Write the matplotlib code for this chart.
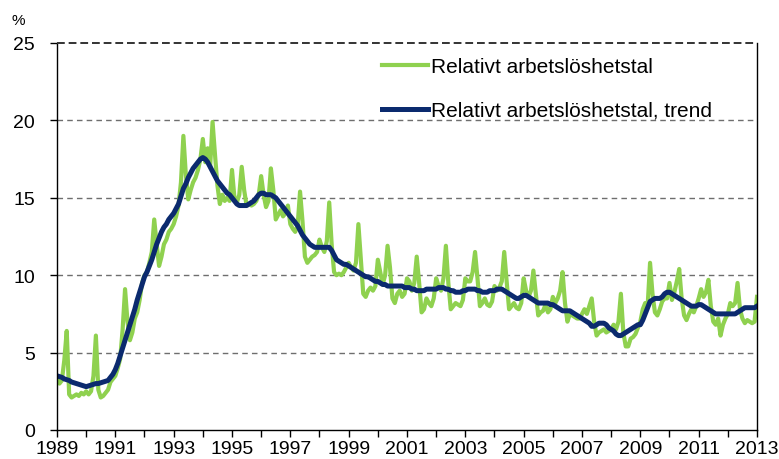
import numpy as np
import matplotlib
matplotlib.use("Agg")
import matplotlib.pyplot as plt
from matplotlib.ticker import MultipleLocator

plt.rcParams['font.family'] = ['Liberation Sans', 'DejaVu Sans']

# monthly values, Jan 1989 - Jan 2013
rate = [
    3.4, 3.0, 3.2, 4.5, 6.4, 2.3, 2.1, 2.2, 2.3, 2.2, 2.4, 2.3,   # 1989
    2.5, 2.3, 2.5, 3.5, 6.1, 2.6, 2.1, 2.2, 2.4, 2.6, 3.1, 3.3,   # 1990
    3.5, 4.0, 4.6, 6.5, 9.1, 7.0, 5.8, 6.3, 7.2, 7.6, 8.4, 9.5,   # 1991
    10.0, 10.2, 10.8, 11.5, 13.6, 12.0, 10.6, 11.2, 12.0, 12.3, 12.8, 13.0,  # 1992
    13.3, 13.8, 14.5, 16.0, 19.0, 16.5, 14.9, 15.5, 16.0, 16.3, 16.8, 17.5,  # 1993
    18.8, 17.3, 18.2, 17.0, 19.9, 17.8, 15.8, 14.6, 15.2, 14.8, 15.0, 14.8,  # 1994
    16.8, 15.0, 14.7, 15.2, 17.0, 15.5, 14.5, 14.6, 14.5, 14.6, 14.8, 15.2,  # 1995
    16.4, 15.2, 14.4, 14.8, 16.9, 15.5, 13.6, 13.9, 14.2, 13.8, 14.0, 14.5,  # 1996
    13.3, 13.0, 12.8, 13.2, 15.4, 13.5, 11.2, 10.8, 11.0, 11.2, 11.3, 11.5,  # 1997
    12.3, 11.8, 11.5, 12.2, 14.7, 12.0, 10.2, 10.0, 10.1, 10.0, 10.2, 10.5,  # 1998
    10.8, 10.5, 10.3, 10.8, 13.3, 11.0, 8.8, 8.6, 9.0, 9.2, 9.0, 9.3,        # 1999
    11.0, 10.2, 9.4, 10.0, 11.9, 10.5, 8.5, 8.2, 8.8, 9.0, 8.6, 8.8,         # 2000
    9.8, 9.6, 9.0, 9.5, 11.2, 9.5, 7.6, 7.8, 8.5, 8.2, 8.0, 8.5,             # 2001
    9.8, 9.3, 9.0, 9.8, 11.9, 9.5, 7.8, 8.0, 8.2, 8.1, 8.0, 8.4,             # 2002
    9.8, 9.6, 9.6, 10.2, 11.5, 9.8, 8.0, 8.2, 8.5, 8.1, 8.0, 8.3,            # 2003
    9.3, 9.0, 9.2, 9.6, 11.5, 9.6, 7.8, 8.0, 8.2, 7.9, 7.8, 8.2,             # 2004
    9.8, 9.0, 8.6, 9.0, 10.3, 8.8, 7.4, 7.6, 7.7, 8.1, 7.6, 7.8,             # 2005
    8.6, 8.2, 8.5, 9.0, 10.2, 8.2, 7.0, 7.5, 7.4, 7.3, 7.2, 7.2,             # 2006
    7.5, 7.8, 7.5, 8.0, 8.5, 7.0, 6.1, 6.3, 6.4, 6.5, 6.3, 6.4,              # 2007
    6.5, 6.8, 6.5, 7.0, 8.8, 6.3, 5.4, 5.4, 5.9, 6.0, 6.2, 6.6,              # 2008
    7.0, 7.8, 8.2, 8.0, 10.8, 8.8, 7.6, 7.4, 7.8, 8.3, 8.5, 8.5,             # 2009
    9.5, 8.4, 8.9, 9.6, 10.4, 8.5, 7.4, 7.1, 7.5, 7.8, 7.6, 8.0,             # 2010
    8.5, 9.1, 8.6, 8.9, 9.7, 8.0, 7.0, 6.8, 7.2, 6.1, 6.8, 7.2,              # 2011
    7.5, 8.2, 8.0, 8.2, 9.5, 7.8, 7.2, 6.9, 7.1, 7.0, 6.9, 7.0,              # 2012
    8.6,                                                                     # 2013
]

trend = [
    3.5, 3.45, 3.4, 3.3, 3.25, 3.2, 3.1, 3.05, 3.0, 2.95, 2.9, 2.85,
    2.8, 2.85, 2.9, 2.95, 3.0, 3.0, 3.05, 3.1, 3.15, 3.2, 3.4, 3.6,
    3.9, 4.3, 4.8, 5.3, 5.8, 6.3, 6.8, 7.3, 7.8, 8.4, 8.9, 9.4,
    9.9, 10.2, 10.6, 11.0, 11.5, 12.0, 12.4, 12.8, 13.1, 13.3, 13.6, 13.8,
    14.0, 14.3, 14.6, 15.1, 15.6, 15.9, 16.3, 16.6, 16.9, 17.1, 17.3, 17.5,
    17.6, 17.5, 17.3, 17.0, 16.7, 16.4, 16.1, 15.9, 15.7, 15.5, 15.3, 15.2,
    15.0, 14.8, 14.6, 14.5, 14.5, 14.5, 14.5, 14.6, 14.7, 14.8, 15.0, 15.2,
    15.3, 15.3, 15.2, 15.2, 15.2, 15.1, 15.0, 14.8, 14.6, 14.4, 14.2, 14.0,
    13.8, 13.6, 13.4, 13.2, 12.9, 12.6, 12.4, 12.2, 12.0, 11.9, 11.8, 11.8,
    11.8, 11.8, 11.8, 11.8, 11.8, 11.6, 11.3, 11.0, 10.9, 10.8, 10.7, 10.7,
    10.6, 10.5, 10.4, 10.3, 10.2, 10.1, 10.0, 9.9, 9.9, 9.8, 9.7, 9.6,
    9.6, 9.5, 9.4, 9.4, 9.3, 9.3, 9.3, 9.3, 9.3, 9.3, 9.3, 9.2,
    9.2, 9.2, 9.1, 9.1, 9.0, 9.0, 9.0, 9.0, 9.1, 9.1, 9.1, 9.1,
    9.1, 9.2, 9.2, 9.2, 9.1, 9.1, 9.0, 9.0, 8.9, 8.9, 8.9, 9.0,
    9.0, 9.1, 9.1, 9.1, 9.1, 9.0, 9.0, 8.9, 8.9, 8.9, 9.0, 9.0,
    9.0, 9.1, 9.1, 9.1, 9.0, 8.9, 8.8, 8.7, 8.6, 8.5, 8.5, 8.6,
    8.7, 8.7, 8.6, 8.5, 8.4, 8.3, 8.2, 8.2, 8.2, 8.2, 8.2, 8.1,
    8.1, 8.0, 7.9, 7.8, 7.7, 7.7, 7.7, 7.7, 7.6, 7.5, 7.4, 7.3,
    7.2, 7.1, 7.0, 6.9, 6.7, 6.7, 6.8, 6.9, 6.9, 6.9, 6.8, 6.6,
    6.5, 6.4, 6.2, 6.1, 6.1, 6.2, 6.3, 6.4, 6.5, 6.6, 6.7, 6.8,
    6.8, 7.1, 7.5, 7.9, 8.3, 8.4, 8.5, 8.5, 8.5, 8.6, 8.8, 8.9,
    8.9, 8.8, 8.7, 8.6, 8.5, 8.4, 8.3, 8.2, 8.1, 8.0, 8.0, 8.0,
    8.1, 8.1, 8.0, 7.9, 7.8, 7.7, 7.6, 7.5, 7.5, 7.5, 7.5, 7.5,
    7.5, 7.5, 7.5, 7.5, 7.6, 7.7, 7.8, 7.9, 7.9, 7.9, 7.9, 7.9,
    8.0,
]

start_year = 1989
year_labels = list(range(1989, 2014, 2))
labels = ["Relativt arbetslöshetstal", "Relativt arbetslöshetstal, trend"]

t = start_year + np.arange(len(rate)) / 12.0

fig = plt.figure(figsize=(7.79, 4.60), dpi=100)
ax = fig.add_axes([57 / 779, 1 - 431 / 460, 700 / 779, 387 / 460])

ax.plot(t, rate, color="#8fd14f", lw=3.0, label=labels[0], solid_joinstyle="round")
ax.plot(t, trend, color="#0b2a6e", lw=3.6, label=labels[1], solid_joinstyle="round")

ax.set_xlim(1989, 2013)
ax.set_ylim(0, 25)
ax.xaxis.set_minor_locator(MultipleLocator(1))
ax.set_xticks(year_labels)
ax.set_xticklabels([str(y) for y in year_labels])
ax.yaxis.set_major_locator(MultipleLocator(5))

for v in [5, 10, 15, 20]:
    ax.axhline(v, color="#6e6e6e", lw=1.0, ls=(0, (4, 3)), zorder=0)
ax.axhline(25, color="#333333", lw=1.4, ls=(0, (4, 2)), zorder=3, clip_on=False)

ax.spines["top"].set_visible(False)
for s in ["left", "right", "bottom"]:
    ax.spines[s].set_color("black")
    ax.spines[s].set_linewidth(1.0)

ax.tick_params(axis="both", which="both", direction="out", length=5, width=1,
               labelsize=14, colors="black")
ax.tick_params(axis="x", which="both", pad=2.5)
ax.tick_params(axis="y", pad=11)

fig.text(12 / 779, 1 - 28 / 460, "%", fontsize=11, ha="left", va="bottom")

leg = ax.legend(loc="upper left", bbox_to_anchor=(382 / 779, 1 - 58 / 460),
                bbox_transform=fig.transFigure, frameon=False, fontsize=15,
                handlelength=2.2, handletextpad=0.15, labelspacing=1.2,
                borderpad=0, borderaxespad=0)

fig.savefig("out.png", dpi=100)
